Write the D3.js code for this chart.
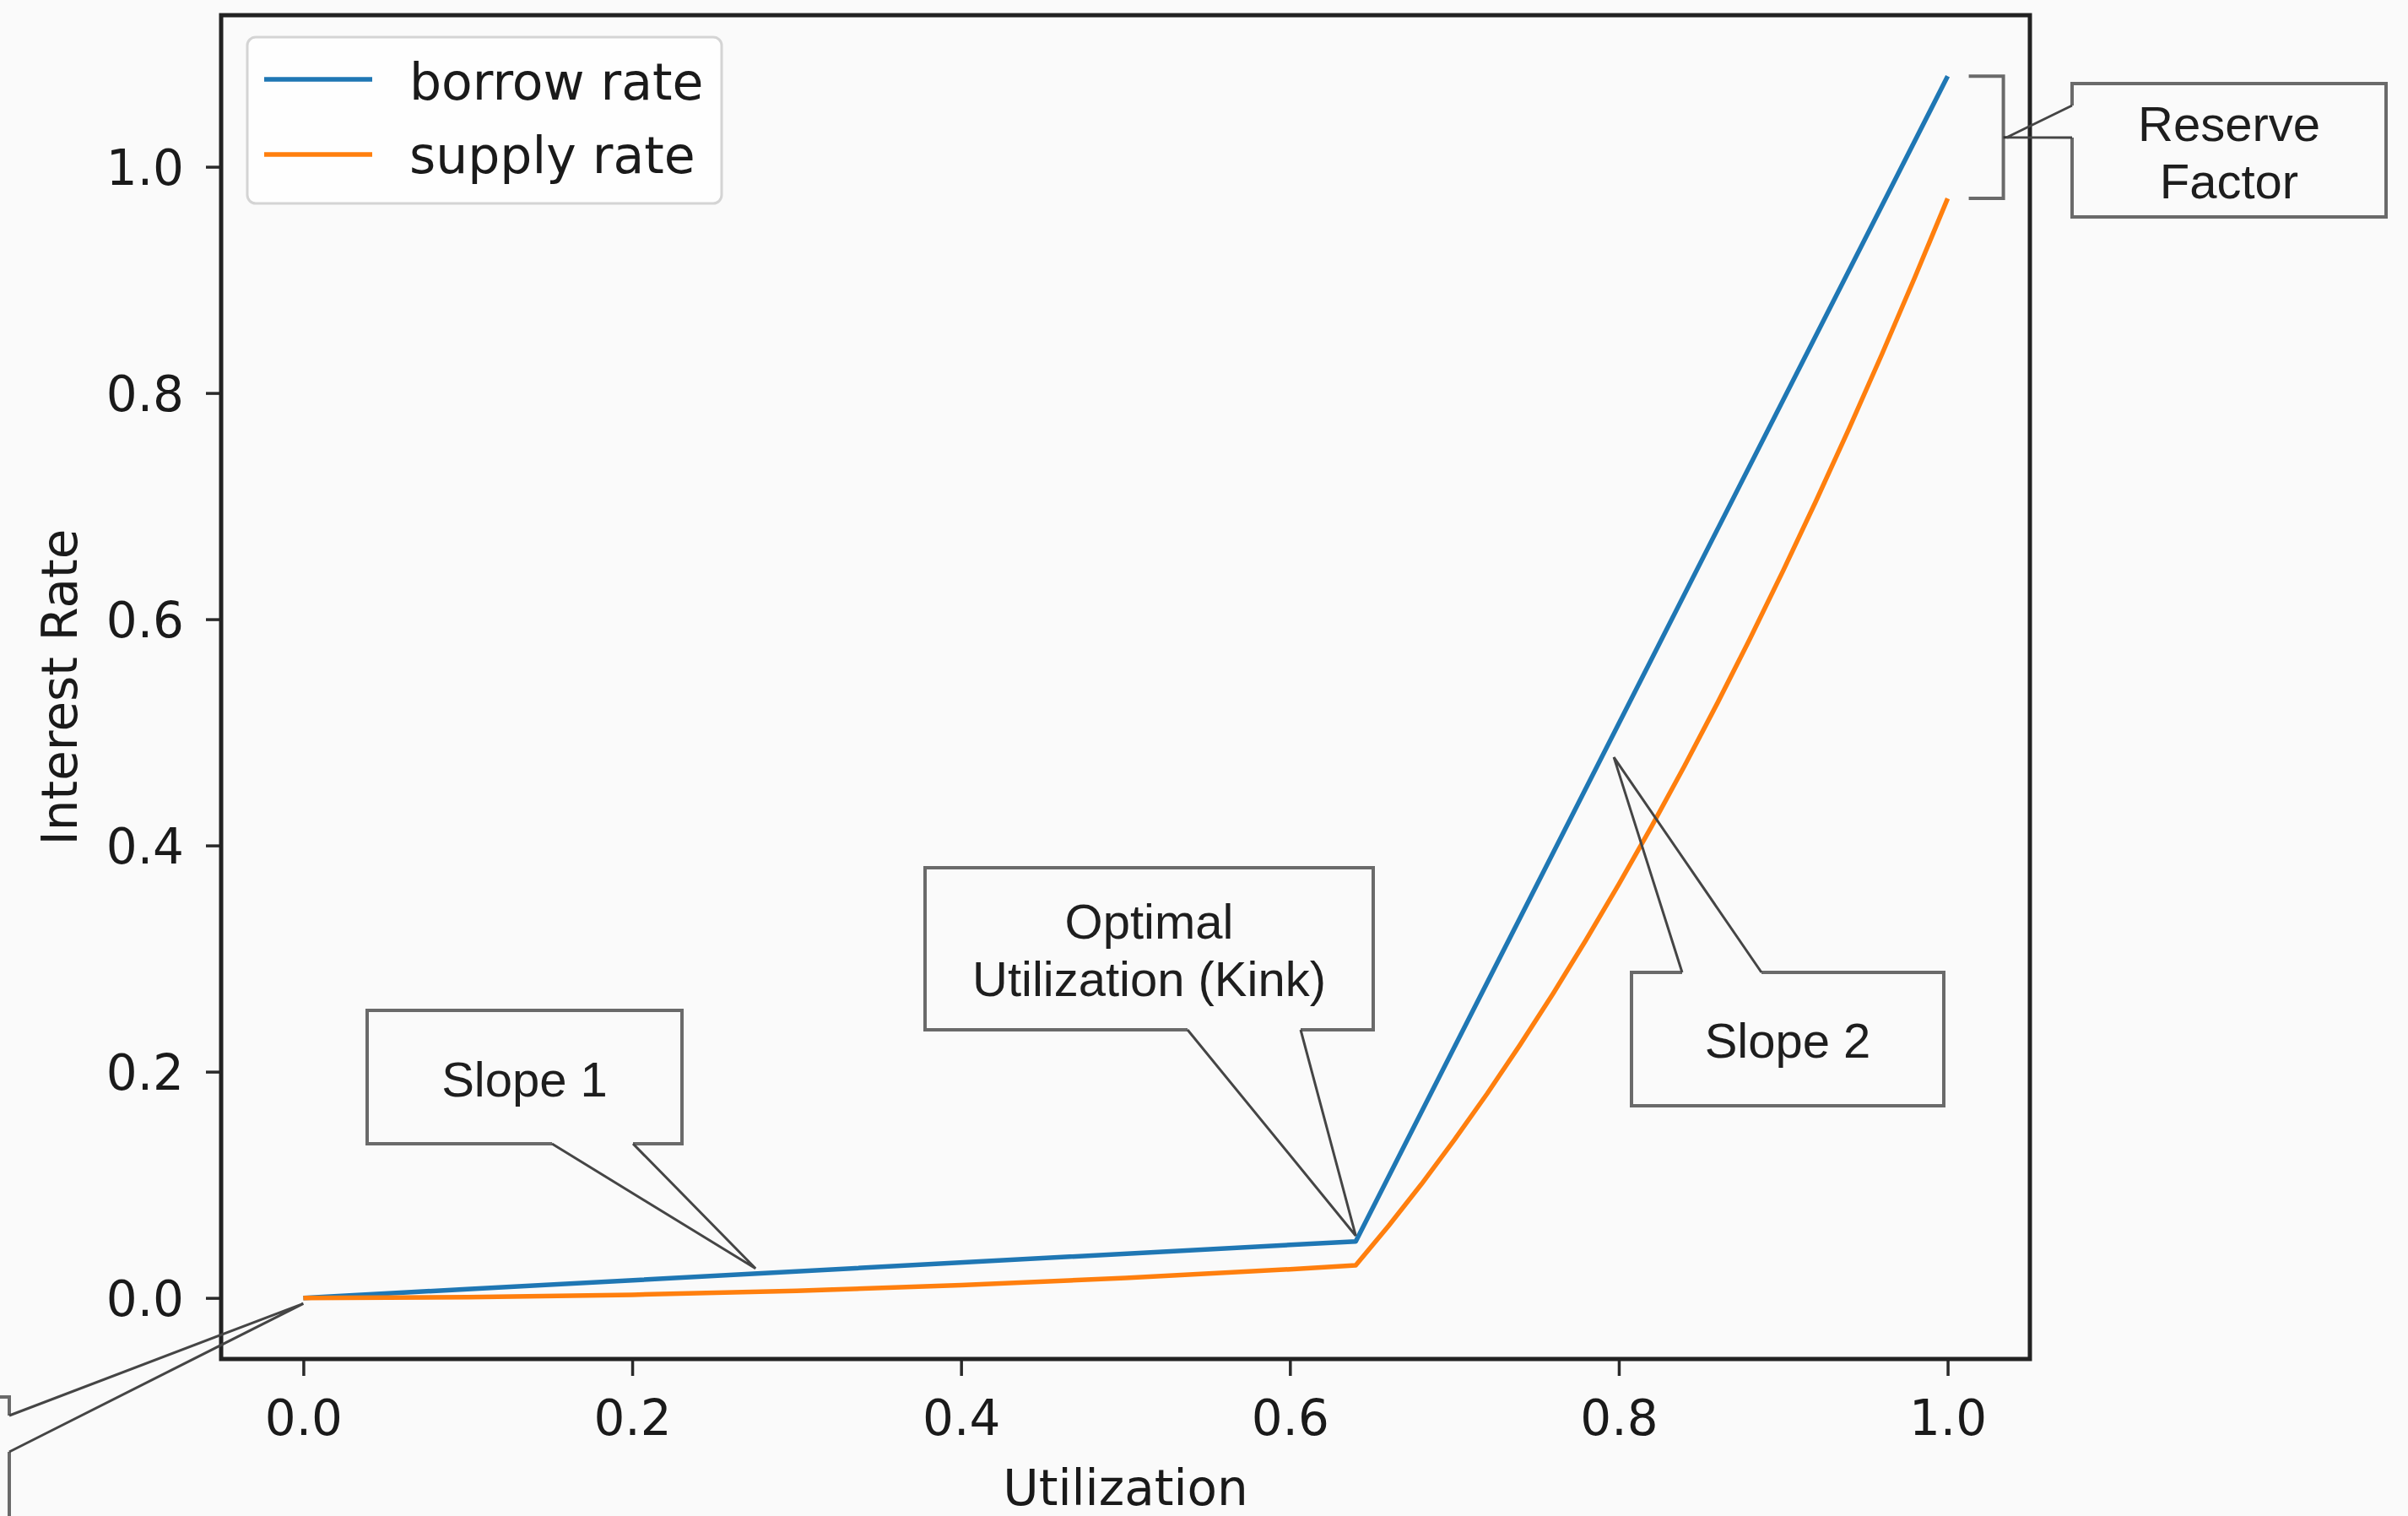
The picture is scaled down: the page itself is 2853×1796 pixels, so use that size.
<!DOCTYPE html>
<html>
<head>
<meta charset="utf-8">
<script src="https://cdn.jsdelivr.net/npm/d3@7"></script>
<style>
  html, body { margin: 0; padding: 0; background: #fafafa; }
  svg { display: block; }
</style>
</head>
<body>
<svg id="chart" width="2853" height="1796"></svg>
<script>
// ---------------- DATA ----------------
const borrowU = [0, 0.64, 1.0];
const borrowRate = [0, 0.05, 1.08];

const supplyU = [0, 0.1, 0.2, 0.3, 0.4, 0.5, 0.6, 0.64, 0.66, 0.68, 0.70, 0.72, 0.74, 0.76, 0.78, 0.80,
                 0.82, 0.84, 0.86, 0.88, 0.90, 0.92, 0.94, 0.96, 0.98, 1.0];
const supplyRate = [0, 0.0007, 0.0028, 0.0063, 0.0113, 0.0176, 0.0253, 0.0288, 0.0637, 0.1006, 0.1397, 0.1807,
                    0.2239, 0.2690, 0.3163, 0.3656, 0.4170, 0.4704, 0.5259, 0.5834, 0.6431, 0.7047, 0.7684,
                    0.8342, 0.9021, 0.972];

const xTicks = [0.0, 0.2, 0.4, 0.6, 0.8, 1.0];
const yTicks = [0.0, 0.2, 0.4, 0.6, 0.8, 1.0];
const seriesNames = ["borrow rate", "supply rate"];
const xLabel = "Utilization";
const yLabel = "Interest Rate";

// annotation pointer targets (data coordinates)
const slope1Point = [0.275, 0.026];
const kinkPoint = [0.64, 0.055];
const slope2Point = [0.797, 0.478];
const originPoint = [0.0, -0.005];
const reserveTop = 1.08, reserveBottom = 0.972;

// ---------------- LAYOUT ----------------
const W = 2853, H = 1796;
const plot = { left: 262, right: 2405, top: 18, bottom: 1610 };
const colors = { borrow: "#1f77b4", supply: "#ff7f0e" };
const bg = "#fafafa";
const tickFont = "'DejaVu Sans', sans-serif";
const annFont = "'Liberation Sans', Arial, sans-serif";
const fs = 58;

const svg = d3.select("#chart");
svg.append("rect").attr("width", W).attr("height", H).attr("fill", bg);

const x = d3.scaleLinear().domain([-0.05, 1.05]).range([plot.left, plot.right]);
const y = d3.scaleLinear().domain([-0.054, 1.134]).range([plot.bottom, plot.top]);

// Axes
const xAxis = d3.axisBottom(x).tickValues(xTicks).tickFormat(d3.format(".1f")).tickSize(20).tickPadding(14);
const yAxis = d3.axisLeft(y).tickValues(yTicks).tickFormat(d3.format(".1f")).tickSize(18).tickPadding(26);

const gx = svg.append("g").attr("transform", `translate(0,${plot.bottom})`).call(xAxis);
const gy = svg.append("g").attr("transform", `translate(${plot.left},0)`).call(yAxis);
[gx, gy].forEach(g => {
  g.select(".domain").remove();
  g.selectAll(".tick line").attr("stroke", "#2a2a2a").attr("stroke-width", 3.5);
  g.selectAll(".tick text").attr("font-family", tickFont).attr("font-size", fs).attr("fill", "#1a1a1a");
});
gx.selectAll(".tick text").attr("dy", null).attr("y", 1700 - plot.bottom).attr("dominant-baseline", "alphabetic");
gy.selectAll(".tick text").attr("dy", "0.36em");

// Axis labels
svg.append("text").attr("x", (plot.left + plot.right) / 2).attr("y", 1783)
  .attr("text-anchor", "middle").attr("font-family", tickFont).attr("font-size", fs)
  .attr("fill", "#1a1a1a").text(xLabel);
svg.append("text").attr("transform", `translate(91,${(plot.top + plot.bottom) / 2}) rotate(-90)`)
  .attr("text-anchor", "middle").attr("font-family", tickFont).attr("font-size", fs)
  .attr("fill", "#1a1a1a").text(yLabel);

// Lines
const line = d3.line().x(d => x(d[0])).y(d => y(d[1]));
const borrowData = borrowU.map((u, i) => [u, borrowRate[i]]);
const supplyData = supplyU.map((u, i) => [u, supplyRate[i]]);
svg.append("path").datum(borrowData).attr("d", line).attr("fill", "none")
  .attr("stroke", colors.borrow).attr("stroke-width", 5.5).attr("stroke-linejoin", "round");
svg.append("path").datum(supplyData).attr("d", line).attr("fill", "none")
  .attr("stroke", colors.supply).attr("stroke-width", 5.5).attr("stroke-linejoin", "round");

// Frame
svg.append("rect").attr("x", plot.left).attr("y", plot.top)
  .attr("width", plot.right - plot.left).attr("height", plot.bottom - plot.top)
  .attr("fill", "none").attr("stroke", "#222").attr("stroke-width", 5);

// Legend
const lg = svg.append("g");
lg.append("rect").attr("x", 293).attr("y", 44).attr("width", 562).attr("height", 197)
  .attr("rx", 10).attr("fill", "#ffffff").attr("fill-opacity", 0.8)
  .attr("stroke", "#d4d4d4").attr("stroke-width", 3);
const legendRows = [
  { name: seriesNames[0], color: colors.borrow, ly: 94, ty: 118 },
  { name: seriesNames[1], color: colors.supply, ly: 183, ty: 205 }
];
legendRows.forEach(r => {
  lg.append("line").attr("x1", 313).attr("x2", 441).attr("y1", r.ly).attr("y2", r.ly)
    .attr("stroke", r.color).attr("stroke-width", 5.5);
  lg.append("text").attr("x", 485).attr("y", r.ty).attr("font-family", tickFont)
    .attr("font-size", 60).attr("fill", "#1a1a1a").text(r.name);
});

// ---------------- ANNOTATIONS ----------------
const boxStroke = "#6a6a6a";
const wedgeStroke = "#454545";

function callout(box, gap, tip, lines) {
  svg.append("rect").attr("x", box.l).attr("y", box.t).attr("width", box.r - box.l)
    .attr("height", box.b - box.t).attr("fill", bg).attr("stroke", "none");
  let p = d3.path();
  if (gap.side === "bottom") {
    p.moveTo(gap.b, box.b); p.lineTo(box.r, box.b); p.lineTo(box.r, box.t);
    p.lineTo(box.l, box.t); p.lineTo(box.l, box.b); p.lineTo(gap.a, box.b);
  } else if (gap.side === "top") {
    p.moveTo(gap.a, box.t); p.lineTo(box.l, box.t); p.lineTo(box.l, box.b);
    p.lineTo(box.r, box.b); p.lineTo(box.r, box.t); p.lineTo(gap.b, box.t);
  } else if (gap.side === "left") {
    p.moveTo(box.l, gap.a); p.lineTo(box.l, box.t); p.lineTo(box.r, box.t);
    p.lineTo(box.r, box.b); p.lineTo(box.l, box.b); p.lineTo(box.l, gap.b);
  }
  svg.append("path").attr("d", p.toString()).attr("fill", "none")
    .attr("stroke", boxStroke).attr("stroke-width", 4).attr("stroke-linejoin", "miter");
  let w = d3.path();
  if (gap.side === "left") {
    w.moveTo(box.l, gap.a); w.lineTo(tip[0], tip[1]); w.lineTo(box.l, gap.b);
  } else {
    const ey = gap.side === "bottom" ? box.b : box.t;
    w.moveTo(gap.a, ey); w.lineTo(tip[0], tip[1]); w.lineTo(gap.b, ey);
  }
  svg.append("path").attr("d", w.toString()).attr("fill", "none")
    .attr("stroke", wedgeStroke).attr("stroke-width", 3).attr("stroke-linejoin", "miter");
  const cx = (box.l + box.r) / 2;
  lines.forEach(ln => {
    svg.append("text").attr("x", cx).attr("y", ln.y).attr("text-anchor", "middle")
      .attr("font-family", annFont).attr("font-size", 58).attr("fill", "#1e1e1e").text(ln.text);
  });
}

// Slope 1
callout({ l: 435, t: 1197, r: 808, b: 1355 }, { side: "bottom", a: 654, b: 750 },
  [x(slope1Point[0]), y(slope1Point[1])], [{ text: "Slope 1", y: 1299 }]);

// Optimal Utilization (Kink)
callout({ l: 1096, t: 1028, r: 1627, b: 1220 }, { side: "bottom", a: 1407, b: 1541 },
  [x(kinkPoint[0]), y(kinkPoint[1])],
  [{ text: "Optimal", y: 1112 }, { text: "Utilization (Kink)", y: 1180 }]);

// Slope 2
callout({ l: 1933, t: 1152, r: 2303, b: 1310 }, { side: "top", a: 1993, b: 2087 },
  [x(slope2Point[0]), y(slope2Point[1])], [{ text: "Slope 2", y: 1253 }]);

// Reserve Factor bracket
const bx0 = x(1.0) + 25, bx1 = x(1.0) + 66;
const bTop = y(reserveTop), bBot = y(reserveBottom), bMid = (bTop + bBot) / 2;
const br = d3.path();
br.moveTo(bx0, bTop); br.lineTo(bx1, bTop); br.lineTo(bx1, bBot); br.lineTo(bx0, bBot);
svg.append("path").attr("d", br.toString()).attr("fill", "none")
  .attr("stroke", "#6a6a6a").attr("stroke-width", 4);
svg.append("line").attr("x1", bx1).attr("x2", bx1 + 6).attr("y1", bMid).attr("y2", bMid)
  .attr("stroke", "#333").attr("stroke-width", 3);
callout({ l: 2455, t: 99, r: 2827, b: 257 }, { side: "left", a: 125, b: 163 },
  [bx1 + 4, bMid], [{ text: "Reserve", y: 167 }, { text: "Factor", y: 235 }]);

// Off-canvas callout at origin (bottom-left)
const ox = x(originPoint[0]), oy = y(originPoint[1]);
const ob = d3.path();
ob.moveTo(-20, 1655); ob.lineTo(11, 1655); ob.lineTo(11, 1677);
svg.append("path").attr("d", ob.toString()).attr("fill", "none").attr("stroke", boxStroke).attr("stroke-width", 4);
const ob2 = d3.path();
ob2.moveTo(11, 1720); ob2.lineTo(11, 1810);
svg.append("path").attr("d", ob2.toString()).attr("fill", "none").attr("stroke", boxStroke).attr("stroke-width", 4);
const ow = d3.path();
ow.moveTo(11, 1677); ow.lineTo(ox, oy); ow.lineTo(11, 1720);
svg.append("path").attr("d", ow.toString()).attr("fill", "none").attr("stroke", wedgeStroke).attr("stroke-width", 3);
</script>
</body>
</html>
